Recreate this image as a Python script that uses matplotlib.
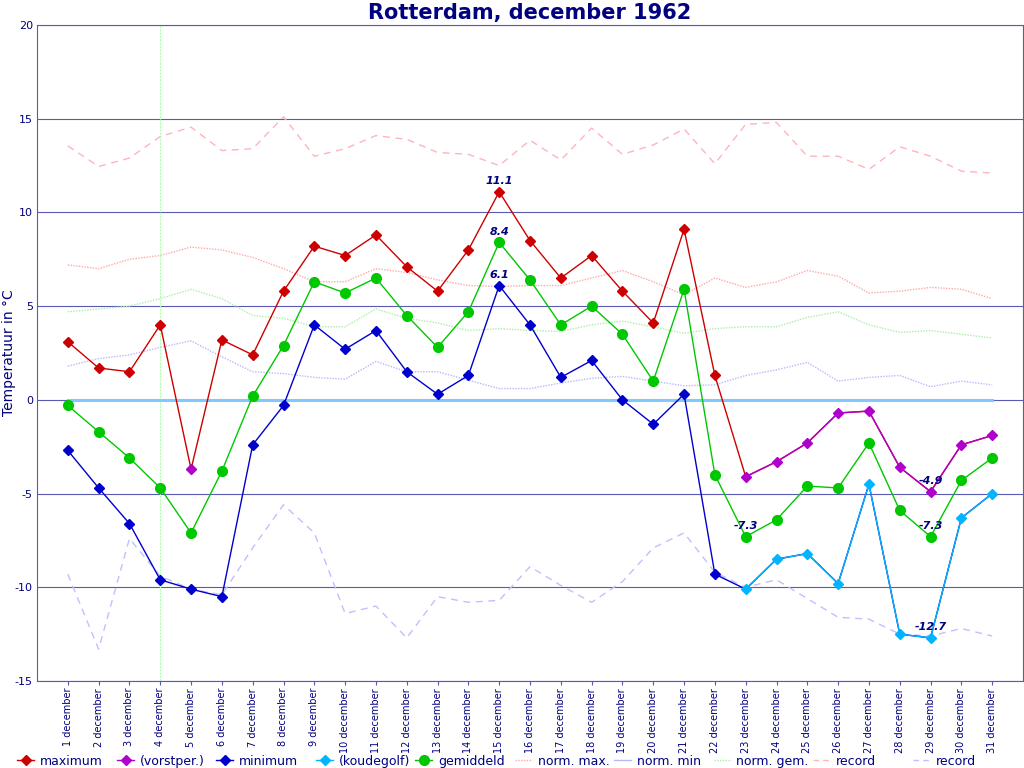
import matplotlib
matplotlib.use("Agg")
import matplotlib.pyplot as plt
from matplotlib.lines import Line2D
import numpy as np

days = list(range(1, 32))
day_labels = [f"{d} december" for d in days]

maximum = [3.1, 1.7, 1.5, 4.0, -3.7, 3.2, 2.4, 5.8, 8.2, 7.7, 8.8, 7.1, 5.8, 8.0, 11.1, 8.5,
           6.5, 7.7, 5.8, 4.1, 9.1, 1.3, -4.1, -3.3, -2.3, -0.7, -0.6, -3.6, -4.9, -2.4, -1.9]
minimum = [-2.7, -4.7, -6.6, -9.6, -10.1, -10.5, -2.4, -0.3, 4.0, 2.7, 3.7, 1.5, 0.3, 1.3, 6.1, 4.0,
           1.2, 2.1, 0.0, -1.3, 0.3, -9.3, -10.1, -8.5, -8.2, -9.8, -4.5, -12.5, -12.7, -6.3, -5.0]
gemiddeld = [-0.3, -1.7, -3.1, -4.7, -7.1, -3.8, 0.2, 2.9, 6.3, 5.7, 6.5, 4.5, 2.8, 4.7, 8.4, 6.4,
             4.0, 5.0, 3.5, 1.0, 5.9, -4.0, -7.3, -6.4, -4.6, -4.7, -2.3, -5.9, -7.3, -4.3, -3.1]
norm_max = [7.2, 7.0, 7.5, 7.7, 8.15, 8.0, 7.6, 7.0, 6.3, 6.3, 7.0, 6.8, 6.4, 6.1, 6.05, 6.1,
            6.1, 6.5, 6.9, 6.3, 5.6, 6.5, 6.0, 6.3, 6.9, 6.6, 5.7, 5.8, 6.0, 5.9, 5.4]
norm_min = [1.8, 2.2, 2.4, 2.8, 3.15, 2.3, 1.5, 1.4, 1.2, 1.1, 2.05, 1.5, 1.5, 1.05, 0.6, 0.6,
            0.9, 1.15, 1.25, 1.0, 0.75, 0.8, 1.3, 1.6, 2.0, 1.0, 1.2, 1.3, 0.7, 1.0, 0.8]
norm_gem = [4.7, 4.85, 5.0, 5.4, 5.9, 5.4, 4.5, 4.35, 3.9, 3.9, 4.85, 4.35, 4.1, 3.7, 3.8, 3.7,
            3.65, 4.0, 4.2, 3.9, 3.55, 3.8, 3.9, 3.9, 4.4, 4.7, 4.0, 3.6, 3.7, 3.5, 3.3]
record_max = [13.55, 12.45, 12.9, 14.05, 14.55, 13.3, 13.4, 15.1, 13.0, 13.4, 14.1, 13.9, 13.2, 13.1,
              12.5, 13.85, 12.8, 14.5, 13.1, 13.6, 14.45, 12.6, 14.7, 14.8, 13.0, 13.0, 12.3, 13.5,
              13.0, 12.2, 12.1]
record_min = [-9.3, -13.3, -7.4, -9.4, -10.1, -10.4, -7.9, -5.6, -7.1, -11.4, -11.0, -12.7, -10.5,
              -10.8, -10.7, -8.9, -9.9, -10.8, -9.7, -7.9, -7.1, -9.2, -10.0, -9.6, -10.6, -11.6,
              -11.7, -12.5, -12.6, -12.2, -12.6]
vorstper_days = [5, 23, 24, 25, 26, 27, 28, 29, 30, 31]
koudegolf_days = [23, 24, 25, 26, 27, 28, 29, 30, 31]
marker_day = 4
legend_labels = ["maximum", "(vorstper.)", "minimum", "(koudegolf)", "gemiddeld", "norm. max.",
                 "norm. min", "norm. gem.", "record", "record"]

NAVY = "#000080"
RED = "#cc0000"
PURPLE = "#b000cc"
BLUE = "#0000cc"
CYAN = "#00b4ff"
GREEN = "#00c800"
GRID = "#5a5ab4"
C_NMAX = "#ffa8a8"
C_NMIN = "#b8b8ff"
C_NGEM = "#a8f0a8"
C_RMAX = "#ffb4bc"
C_RMIN = "#c0c0ff"
DOT = (0, (1, 1))
DASH = (0, (5, 4))

W, H = 1024, 768
fig = plt.figure(figsize=(W / 100, H / 100), dpi=100)
ax = fig.add_axes([37 / W, 87 / H, 986 / W, 656 / H])

x = np.array(days)
ax.set_xlim(0, 32)
ax.set_ylim(-15, 20)

# grid
for yv in range(-15, 21, 5):
    ax.axhline(yv, color=GRID, lw=0.8, zorder=1)
ax.axvline(marker_day, color="#b0ffb0", lw=0.8, ls=(0, (2, 1)), zorder=1)
ax.plot([1, 31], [0, 0], color="#80c8ff", lw=2.2, zorder=1.5)

# normals and records
ax.plot(x, norm_max, color=C_NMAX, lw=1, ls=DOT, zorder=2)
ax.plot(x, norm_min, color=C_NMIN, lw=1, ls=DOT, zorder=2)
ax.plot(x, norm_gem, color=C_NGEM, lw=1, ls=DOT, zorder=2)
ax.plot(x, record_max, color=C_RMAX, lw=1, ls=DASH, zorder=2)
ax.plot(x, record_min, color=C_RMIN, lw=1, ls=DASH, zorder=2)


def overlay(vals, special, color, z):
    for i in range(len(days) - 1):
        if days[i] in special and days[i + 1] in special:
            ax.plot(x[i:i + 2], vals[i:i + 2], color=color, lw=1, zorder=z)


MS_D = 5.5
MS_O = 7

# maximum
ax.plot(x, maximum, color=RED, lw=1, zorder=3)
overlay(maximum, vorstper_days, PURPLE, 3.1)
mx_n = [d for d in days if d not in vorstper_days]
ax.plot(mx_n, [maximum[d - 1] for d in mx_n], ls="none", marker="D", ms=MS_D, color=RED, zorder=4)
ax.plot(vorstper_days, [maximum[d - 1] for d in vorstper_days], ls="none", marker="D", ms=MS_D,
        color=PURPLE, zorder=4)

# minimum
ax.plot(x, minimum, color=BLUE, lw=1, zorder=3)
overlay(minimum, koudegolf_days, CYAN, 3.1)
mn_n = [d for d in days if d not in koudegolf_days]
ax.plot(mn_n, [minimum[d - 1] for d in mn_n], ls="none", marker="D", ms=MS_D, color=BLUE, zorder=4)
ax.plot(koudegolf_days, [minimum[d - 1] for d in koudegolf_days], ls="none", marker="D", ms=MS_D,
        color=CYAN, zorder=4)

# gemiddeld
ax.plot(x, gemiddeld, color=GREEN, lw=1, marker="o", ms=MS_O, zorder=3.5)

# annotations
ann_style = dict(color=NAVY, fontsize=8, fontweight="bold", fontstyle="italic", ha="center",
                 va="bottom", zorder=6)
ax.text(15, maximum[14] + 0.3, "11.1", **ann_style)
ax.text(15, gemiddeld[14] + 0.3, "8.4", **ann_style)
ax.text(15, minimum[14] + 0.3, "6.1", **ann_style)
ax.text(23, gemiddeld[22] + 0.3, "-7.3", **ann_style)
ax.text(29, maximum[28] + 0.3, "-4.9", **ann_style)
ax.text(29, gemiddeld[28] + 0.3, "-7.3", **ann_style)
ax.text(29, minimum[28] + 0.3, "-12.7", **ann_style)

# axes styling
for s in ax.spines.values():
    s.set_color(GRID)
    s.set_linewidth(0.8)
ax.set_xticks(days)
ax.set_xticklabels(day_labels, rotation=90, fontsize=7, color=NAVY)
ax.set_yticks(range(-15, 21, 5))
ax.set_yticklabels([str(v) for v in range(-15, 21, 5)], fontsize=8, color=NAVY)
ax.tick_params(axis="x", length=3, color=GRID, pad=2)
ax.tick_params(axis="y", length=0, pad=3)
ax.set_ylabel("Temperatuur in °C", color=NAVY, fontsize=10)
ax.yaxis.set_label_coords(-0.0215, 0.5)
ax.set_title("Rotterdam, december 1962", color=NAVY, fontsize=15, fontweight="bold", pad=4)

# legend (fixed-width entries along the bottom)
styles = [
    dict(color=RED, marker="D", ms=MS_D, ls="-"),
    dict(color=PURPLE, marker="D", ms=MS_D, ls="-"),
    dict(color=BLUE, marker="D", ms=MS_D, ls="-"),
    dict(color=CYAN, marker="D", ms=MS_D, ls="-"),
    dict(color=GREEN, marker="o", ms=MS_O, ls="-"),
    dict(color=C_NMAX, marker=None, ls=DOT),
    dict(color=C_NMIN, marker=None, ls="-"),
    dict(color=C_NGEM, marker=None, ls=DOT),
    dict(color=C_RMAX, marker=None, ls=(0, (4, 3))),
    dict(color=C_RMIN, marker=None, ls=(0, (4, 3))),
]
ly = 1 - 760 / H
for i, (lab, st) in enumerate(zip(legend_labels, styles)):
    x0 = 17 + 99.5 * i
    xs = [x0 / W, (x0 + 9) / W, (x0 + 17) / W]
    st = dict(st)
    mk = st.pop("marker")
    line = Line2D(xs, [ly] * 3, transform=fig.transFigure, lw=1,
                  marker=mk if mk else "None", markevery=[1] if mk else None, **st)
    fig.add_artist(line)
    fig.text((x0 + 23) / W, ly, lab, color=NAVY, fontsize=9, ha="left", va="center_baseline")

fig.savefig("out.png", dpi=100)
